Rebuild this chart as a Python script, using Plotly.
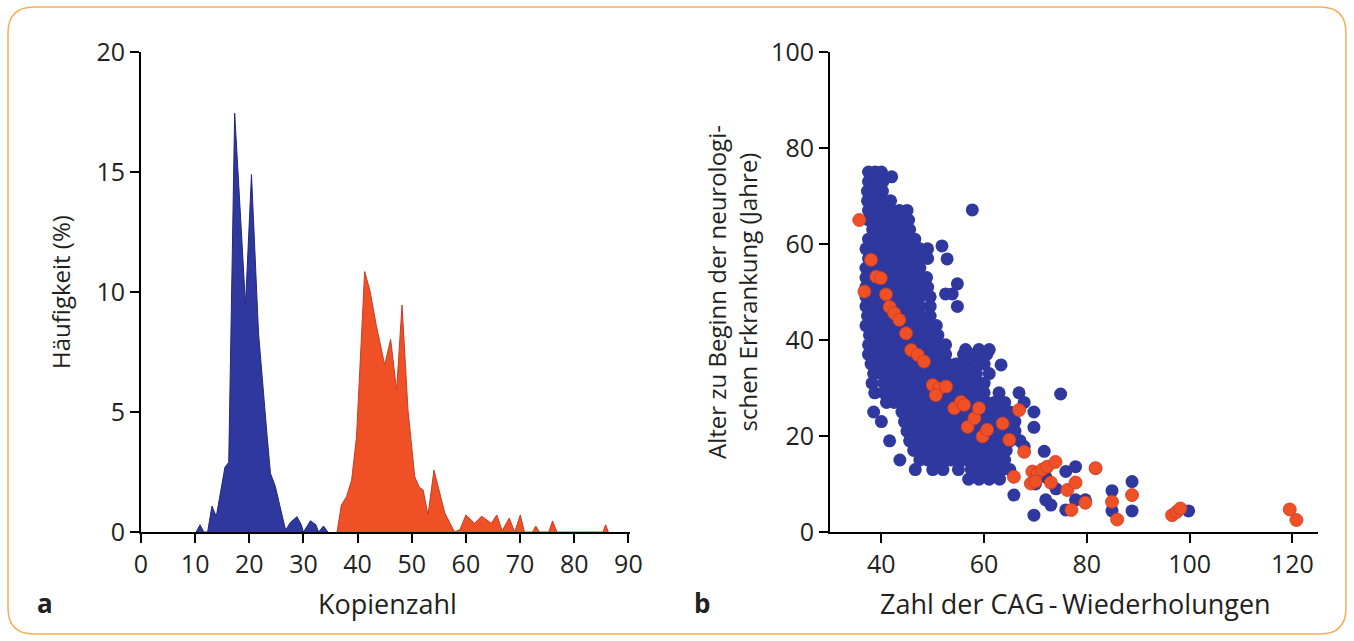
import plotly.graph_objects as go

# ---------------- Panel a: copy number distribution ----------------
blue_copy = [10.2, 10.9, 11.6, 12.3, 13.1, 13.9, 15.5, 16.2, 17.3, 19.3, 20.4, 21.7, 23.3, 23.9,
             24.8, 26.7, 27.6, 28.8, 29.6, 30.0, 31.3, 32.3, 32.8, 33.7, 34.5]
blue_freq = [0, 0.3, 0, 0, 1.08, 0.64, 2.7, 2.9, 17.45, 9.46, 14.9, 8.3, 3.97, 2.45,
             1.9, 0.08, 0.4, 0.64, 0.3, 0, 0.47, 0.3, 0, 0.25, 0]

red_copy = [36.2, 37.0, 37.95, 38.9, 39.8, 40.7, 41.3, 42.25, 43.5, 45.0, 46.1, 47.2, 48.2, 49.3,
            50.55, 51.4, 52.1, 53.0, 54.1, 56.1, 57.9, 58.9, 60.0, 61.6, 62.9, 64.7, 65.7, 66.7,
            68.0, 69.0, 70.05, 70.8, 72.3, 72.9, 73.6, 75.3, 76.0, 76.8, 85.3, 85.8, 86.3]
red_freq = [0, 1.12, 1.47, 2.17, 3.97, 8.28, 10.85, 10.08, 8.55, 6.96, 8.03, 5.9, 9.46, 5.08,
            2.3, 1.86, 1.75, 0.71, 2.58, 0.79, 0, 0.1, 0.71, 0.36, 0.66, 0.36, 0.71, 0.05,
            0.58, 0, 0.71, 0, 0, 0.25, 0, 0, 0.46, 0, 0, 0.3, 0]

a_xticks = [0, 10, 20, 30, 40, 50, 60, 70, 80, 90]
a_yticks = [0, 5, 10, 15, 20]

# ---------------- Panel b: CAG repeats vs age of onset ----------------
blue_pts = [
    (37.5, 75), (38.8, 75), (40.0, 75), (42.0, 74),
    (37.5, 73), (39.0, 73), (40.3, 73),
    (37.3, 71), (38.8, 71), (40.2, 71),
    (37.3, 69), (38.8, 69), (40.3, 69), (41.8, 69),
    (37.5, 67), (39.0, 67), (40.5, 67), (42.0, 67), (43.5, 67), (45.0, 67), (57.7, 67.1),
    (37.5, 65), (39.0, 65), (40.5, 65), (42.0, 65), (43.5, 65), (45.3, 65),
    (38.3, 63), (39.8, 63), (41.3, 63), (42.8, 63), (44.3, 63), (45.5, 63),
    (37.5, 61), (39.0, 61), (40.5, 61), (42.0, 61), (43.5, 61), (45.0, 61), (46.5, 61),
    (37.0, 59), (38.5, 59), (40.0, 59), (41.5, 59), (43.0, 59), (44.5, 59), (46.0, 59),
    (47.5, 59), (49.0, 59), (51.8, 59.6),
    (37.5, 57), (39.0, 57), (40.5, 57), (42.0, 57), (43.5, 57), (45.0, 57), (46.5, 57),
    (48.0, 57), (49.0, 57), (52.8, 56.9),
    (37.0, 55), (38.5, 55), (40.0, 55), (41.5, 55), (43.0, 55), (44.5, 55), (46.0, 55), (47.5, 55),
    (37.0, 53), (38.5, 53), (40.0, 53), (41.5, 53), (43.0, 53), (44.5, 53), (46.0, 53),
    (47.5, 53), (48.8, 53),
    (37.0, 51), (38.5, 51), (40.0, 51), (41.5, 51), (43.0, 51), (44.5, 51), (46.0, 51),
    (47.5, 51), (49.0, 51), (54.8, 51.7),
    (37.0, 49), (38.5, 49), (40.0, 49), (41.5, 49), (43.0, 49), (44.5, 49), (46.0, 49),
    (47.5, 49), (49.5, 49), (52.5, 49.6), (53.8, 49.6),
    (37.0, 47), (38.5, 47), (40.0, 47), (41.5, 47), (43.0, 47), (44.5, 47), (46.0, 47),
    (47.5, 47), (49.5, 47), (54.8, 47),
    (37.3, 45), (38.8, 45), (40.3, 45), (41.8, 45), (43.3, 45), (44.8, 45), (46.3, 45),
    (47.8, 45), (49.5, 45),
    (37.0, 43), (38.5, 43), (40.0, 43), (41.5, 43), (43.0, 43), (44.5, 43), (46.0, 43),
    (47.5, 43), (49.0, 43), (50.7, 43),
    (37.7, 41), (39.2, 41), (40.7, 41), (42.2, 41), (43.7, 41), (45.2, 41), (46.7, 41),
    (48.2, 41), (49.7, 41), (51.0, 41),
    (37.5, 39), (39.0, 39), (40.5, 39), (42.0, 39), (43.5, 39), (45.0, 39), (46.5, 39),
    (48.0, 39), (49.5, 39), (51.0, 39), (52.5, 39), (56.4, 38), (59.0, 38), (61.0, 38),
    (37.5, 37), (39.0, 37), (40.5, 37), (42.0, 37), (43.5, 37), (45.0, 37), (46.5, 37),
    (48.0, 37), (49.5, 37), (51.0, 37), (52.5, 37), (56.0, 37), (57.5, 37), (59.0, 37), (60.5, 37),
    (38.0, 35), (39.5, 35), (41.0, 35), (42.5, 35), (44.0, 35), (45.5, 35), (47.0, 35),
    (48.5, 35), (50.0, 35), (51.5, 35), (53.0, 35), (54.5, 35), (56.0, 35), (58.0, 35),
    (60.0, 35), (63.3, 34.8),
    (38.5, 33), (40.0, 33), (41.5, 33), (43.0, 33), (44.5, 33), (46.0, 33), (47.5, 33),
    (49.0, 33), (50.5, 33), (52.0, 33), (53.5, 33), (55.0, 33), (56.5, 33), (58.5, 33), (61.0, 33),
    (38.2, 31), (40.5, 31), (42.0, 31), (43.5, 31), (45.0, 31), (46.5, 31), (48.0, 31),
    (49.5, 31), (51.0, 31), (52.5, 31), (54.0, 31), (55.5, 31), (57.0, 31), (58.5, 31), (60.0, 31),
    (38.7, 29), (40.5, 29), (42.0, 29), (43.5, 29), (45.0, 29), (46.5, 29), (48.0, 29),
    (49.5, 29), (51.0, 29), (52.5, 29), (54.0, 29), (55.5, 29), (57.0, 29), (58.5, 29),
    (60.0, 29), (62.9, 29), (66.8, 29), (74.9, 28.75),
    (41.0, 27), (42.5, 27), (44.0, 27), (45.5, 27), (47.0, 27), (48.5, 27), (50.0, 27),
    (51.5, 27), (53.0, 27), (54.5, 27), (56.0, 27), (57.5, 27), (59.0, 27), (60.5, 27),
    (62.0, 27), (64.0, 27), (67.8, 27),
    (38.5, 25), (44.0, 25), (45.5, 25), (47.0, 25), (48.5, 25), (50.0, 25), (51.5, 25),
    (53.0, 25), (54.5, 25), (56.0, 25), (57.5, 25), (59.0, 25), (60.5, 25), (62.0, 25),
    (63.5, 25), (65.0, 25), (69.7, 25),
    (40.0, 23), (44.5, 23), (46.0, 23), (47.5, 23), (49.0, 23), (50.5, 23), (52.0, 23),
    (53.5, 23), (55.0, 23), (56.5, 23), (58.0, 23), (59.5, 23), (61.0, 23), (62.5, 23),
    (64.0, 23), (66.0, 23),
    (45.0, 21), (46.5, 21), (48.0, 21), (49.5, 21), (51.0, 21), (52.5, 21), (54.0, 21),
    (55.5, 21), (57.0, 21), (58.5, 21), (60.0, 21), (61.5, 21), (63.0, 21), (64.5, 21),
    (66.0, 21), (69.7, 21.8),
    (41.6, 19), (45.5, 19), (47.0, 19), (48.5, 19), (50.0, 19), (51.5, 19), (53.0, 19),
    (54.5, 19), (56.0, 19), (57.5, 19), (59.0, 19), (60.5, 19), (62.0, 19), (63.5, 19),
    (65.0, 19), (67.0, 19),
    (46.3, 17), (47.8, 17), (49.3, 17), (50.8, 17), (52.3, 17), (53.8, 17), (55.3, 17),
    (56.8, 17), (58.3, 17), (59.8, 17), (61.3, 17), (62.8, 17), (64.3, 17), (67.8, 17.8), (71.7, 16.8),
    (43.6, 15), (47.5, 15), (49.0, 15), (50.5, 15), (52.0, 15), (53.5, 15), (55.0, 15),
    (56.5, 15), (58.0, 15), (59.5, 15), (61.0, 15), (62.5, 15), (64.0, 15),
    (46.6, 13), (50.0, 13), (52.0, 13), (55.0, 13), (57.5, 13), (59.0, 13), (60.5, 13),
    (62.0, 13), (63.5, 13), (65.0, 13),
    (57.0, 11), (59.0, 11), (61.0, 11), (63.0, 11),
    (65.8, 7.7), (69.7, 3.5), (72.0, 6.7), (73.0, 5.6), (75.9, 12.6), (77.8, 13.6),
    (77.8, 6.7), (75.9, 4.6), (79.7, 6.7), (84.9, 8.6), (84.9, 4.4), (88.8, 10.5),
    (88.8, 4.4), (99.8, 4.4), (81.7, 13.3), (70.0, 10.0), (72.0, 11.5), (74.0, 9.0),
]

red_pts = [
    (35.7, 65), (38.0, 56.7), (39.0, 53.2), (39.9, 52.9), (36.7, 50.1), (40.9, 49.5),
    (41.6, 46.9), (42.5, 45.6), (43.5, 44.2), (44.8, 41.4), (45.8, 37.9), (47.1, 36.9),
    (48.3, 35.5), (50.0, 30.6), (51.3, 29.9), (52.6, 30.3), (50.6, 28.5), (54.2, 25.8),
    (55.5, 27.1), (56.1, 26.5), (56.8, 21.9), (58.1, 23.7), (59.0, 25.8), (59.7, 19.9),
    (60.6, 21.3), (63.6, 22.6), (64.9, 19.2), (66.8, 25.4), (67.8, 16.7), (65.8, 11.5),
    (69.4, 12.6), (70.4, 12.2), (71.3, 13.0), (72.3, 13.6), (73.9, 14.6), (69.1, 10.1),
    (70.0, 10.5), (73.0, 10.3), (76.2, 8.75), (77.8, 10.3), (77.0, 4.6), (79.7, 6.1),
    (81.7, 13.3), (84.9, 6.3), (85.9, 2.6), (88.8, 7.7), (96.6, 3.5), (97.5, 4.2),
    (98.2, 4.9), (119.5, 4.7), (120.8, 2.5),
]

b_xticks = [40, 60, 80, 100, 120]
b_yticks = [0, 20, 40, 60, 80, 100]

# ---------------- styling ----------------
W, H = 1354, 641
FONT = "Open Sans"
TXT = "rgb(35,31,32)"
BLUE = "rgb(46,56,158)"
BLUE_LINE = "rgb(35,40,120)"
RED = "rgb(240,80,38)"
RED_LINE = "rgb(200,60,35)"

fig = go.Figure()

fig.add_trace(go.Scatter(x=blue_copy, y=blue_freq, mode="lines", fill="tozeroy",
                         fillcolor=BLUE, line=dict(color=BLUE_LINE, width=1),
                         xaxis="x", yaxis="y", showlegend=False, hoverinfo="skip"))
fig.add_trace(go.Scatter(x=red_copy, y=red_freq, mode="lines", fill="tozeroy",
                         fillcolor=RED, line=dict(color=RED_LINE, width=1),
                         xaxis="x", yaxis="y", showlegend=False, hoverinfo="skip"))

fig.add_trace(go.Scatter(x=[p[0] for p in blue_pts], y=[p[1] for p in blue_pts],
                         mode="markers", marker=dict(size=13, color=BLUE,
                                                     line=dict(width=0)),
                         xaxis="x2", yaxis="y2", showlegend=False, cliponaxis=False))
fig.add_trace(go.Scatter(x=[p[0] for p in red_pts], y=[p[1] for p in red_pts],
                         mode="markers", marker=dict(size=13, color=RED,
                                                     line=dict(width=0.8, color=RED_LINE)),
                         xaxis="x2", yaxis="y2", showlegend=False, cliponaxis=False))

ax_common = dict(showgrid=False, zeroline=False, showline=True, linecolor="black",
                 linewidth=2, ticks="outside", ticklen=9, tickwidth=2, tickcolor="black",
                 tickfont=dict(family=FONT, size=25, color=TXT), fixedrange=True,
                 automargin=False)

y_top = 1 - 52 / H
y_bot = 1 - 532 / H

fig.update_layout(
    template="none",
    width=W, height=H, autosize=False,
    margin=dict(l=0, r=0, t=0, b=0, pad=0, autoexpand=False),
    paper_bgcolor="white", plot_bgcolor="white",
    font=dict(family=FONT, color=TXT),
    xaxis=dict(domain=[141 / W, 630 / W], range=[0, 90.3], tickvals=a_xticks,
               anchor="y", **ax_common),
    yaxis=dict(domain=[y_bot, y_top], range=[0, 20], tickvals=a_yticks,
               anchor="x", **ax_common),
    xaxis2=dict(domain=[830 / W, 1318 / W], range=[30, 125], tickvals=b_xticks,
                anchor="y2", **ax_common),
    yaxis2=dict(domain=[y_bot, y_top], range=[0, 100], tickvals=b_yticks,
                anchor="x2", **ax_common),
)

def ann(text, x, y, size=24, angle=0, bold=False):
    fig.add_annotation(text=f"<b>{text}</b>" if bold else text,
                       x=x / W, y=1 - y / H, xref="paper", yref="paper",
                       showarrow=False, textangle=angle, xanchor="center", yanchor="middle",
                       font=dict(family=FONT, size=size, color=TXT))

ann("Kopienzahl", 387, 603, size=27)
ann("Zahl der CAG\u2009-\u2009Wiederholungen", 1075, 603, size=27)
ann("Häufigkeit (%)", 60, 292, size=24, angle=-90)
ann("Alter zu Beginn der neurologi-<br>schen Erkrankung (Jahre)", 732, 292, size=24, angle=-90)
ann("a", 45, 603, size=26, bold=True)
ann("b", 702, 603, size=26, bold=True)

# rounded frame
x0, x1 = 8 / W, 1346 / W
yt, yb = 1 - 7 / H, 1 - 634 / H
rx, ry = 26 / W, 26 / H
path = (f"M {x0+rx},{yt} L {x1-rx},{yt} Q {x1},{yt} {x1},{yt-ry} "
        f"L {x1},{yb+ry} Q {x1},{yb} {x1-rx},{yb} L {x0+rx},{yb} "
        f"Q {x0},{yb} {x0},{yb+ry} L {x0},{yt-ry} Q {x0},{yt} {x0+rx},{yt} Z")
fig.add_shape(type="path", path=path, xref="paper", yref="paper",
              line=dict(color="rgb(247,172,88)", width=1.5), layer="below")

# pin the figure to the window's top-left corner so the page does not overflow
post = ("document.documentElement.style.margin='0';"
        "document.body.style.margin='0';"
        "document.body.style.overflow='hidden';"
        "var gd=document.getElementById('{plot_id}');"
        "gd.style.position='fixed';gd.style.left='0px';gd.style.top='0px';")

fig.write_html("out.html", post_script=post, config={"displayModeBar": False})
